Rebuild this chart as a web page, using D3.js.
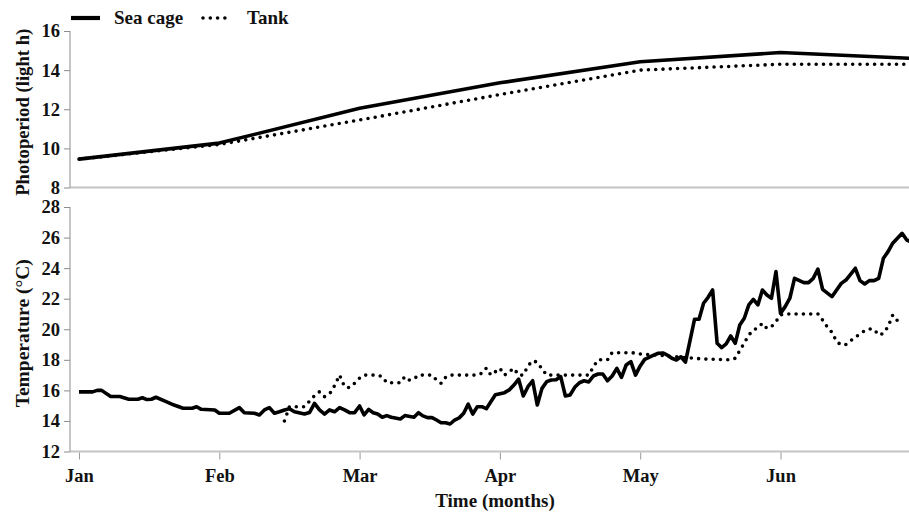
<!DOCTYPE html>
<html>
<head>
<meta charset="utf-8">
<script src="https://cdn.jsdelivr.net/npm/d3@7/dist/d3.min.js"></script>
<style>
  html, body { margin: 0; padding: 0; background: #fff; }
  svg { display: block; }
  text { font-family: "Liberation Serif", "Times New Roman", serif; font-weight: bold; fill: #111; }
</style>
</head>
<body>
<svg id="chart" width="909" height="515"></svg>
<script>
// Month labels and the day of year on which each month starts (Jul 1 closes June)
const months = ["Jan", "Feb", "Mar", "Apr", "May", "Jun"];
const monthStartDay = [1, 32, 60, 91, 121, 152, 182];

// Photoperiod (hours of light), first of each month
const photoDays = [1, 32, 60, 91, 121, 152, 180];
const photoSeaCage = [9.45, 10.27, 12.05, 13.35, 14.43, 14.9, 14.6];
const photoTank = [9.45, 10.2, 11.45, 12.75, 14.0, 14.3, 14.3];

// Water temperature (°C), sea cage
const seaCageDays = [1, 4, 5, 6, 8, 10, 12, 14, 15, 16, 17, 18, 20, 22, 24, 26, 27, 28, 31,
  32, 34, 36, 37, 39, 40, 41, 42, 43, 44, 45, 46, 47, 49, 50, 51, 52, 53, 54, 55, 56, 57, 58, 59,
  60, 61, 62, 63, 64, 65, 66, 67, 69, 70, 72, 73, 74, 75, 76, 77, 78, 79, 80, 81, 82, 83, 84, 85, 86, 87, 88, 89, 90,
  92, 93, 94, 95, 96, 97, 98, 99, 100, 101, 102, 103, 104, 105, 106, 107, 108, 109, 110, 111, 112, 113, 114, 115, 116, 117, 118, 119, 120,
  121, 122, 124, 125, 126, 127, 128, 129, 130, 131, 133, 134, 135, 136, 137, 138, 139, 140, 141, 142, 143, 144, 145, 146, 147, 148, 149, 150, 151,
  152, 153, 154, 155, 157, 158, 159, 160, 161, 163, 164, 165, 166, 168, 169, 170, 171, 172, 173, 174, 175, 176, 178, 179, 180];
const seaCageTemp = [15.9, 15.9, 16.0, 16.0, 15.6, 15.6, 15.42, 15.42, 15.52, 15.4, 15.42, 15.55, 15.3, 15.04, 14.83, 14.83, 14.93, 14.76, 14.72,
  14.5, 14.5, 14.87, 14.54, 14.5, 14.39, 14.72, 14.87, 14.5, 14.6, 14.72, 14.8, 14.6, 14.45, 14.55, 15.15, 14.72, 14.45, 14.72, 14.6, 14.87, 14.72, 14.54, 14.54,
  14.98, 14.39, 14.76, 14.54, 14.45, 14.24, 14.35, 14.24, 14.13, 14.35, 14.24, 14.54, 14.33, 14.22, 14.22, 14.06, 13.88, 13.88, 13.8, 14.06, 14.2, 14.5, 15.1, 14.45, 14.93, 14.93, 14.8, 15.26, 15.72,
  15.85, 16.03, 16.35, 16.74, 15.63, 16.24, 16.63, 15.04, 16.13, 16.57, 16.68, 16.7, 16.9, 15.63, 15.7, 16.2, 16.5, 16.63, 16.55, 16.94, 17.07, 17.07, 16.63, 16.94, 17.44, 16.85, 17.66, 17.88, 17.0,
  17.6, 18.03, 18.3, 18.43, 18.45, 18.3, 18.1, 17.99, 18.2, 17.85, 20.65, 20.65, 21.7, 22.09, 22.57, 19.08, 18.8, 19.04, 19.56, 19.08, 20.28, 20.72, 21.59, 21.96, 21.59, 22.57, 22.24, 22.03, 23.77,
  21.04, 21.48, 22.03, 23.33, 23.05, 23.05, 23.33, 23.94, 22.61, 22.13, 22.57, 23.0, 23.22, 23.99, 23.18, 22.96, 23.18, 23.18, 23.33, 24.64, 25.08, 25.63, 26.28, 25.84, 25.7];

// Water temperature (°C), tank
const tankDays = [45, 46, 49, 51, 52, 53, 54, 55, 56, 57, 58, 59,
  60, 61, 64, 65, 66, 69, 70, 71, 72, 73, 76, 77, 78, 79, 80, 86, 87, 88, 89,
  91, 92, 94, 95, 96, 97, 98, 99, 100, 101, 110, 111, 112, 114, 115, 120,
  121, 125, 130, 133, 135, 141, 142, 143, 144, 145, 146, 147, 148, 149, 150, 151,
  152, 153, 160, 161, 162, 163, 164, 165, 166, 167, 168, 169, 170, 171, 172, 173, 174, 175, 176, 177, 178];
const tankTemp = [14.0, 14.93, 14.93, 15.65, 15.91, 15.59, 15.76, 16.3, 17.0, 16.24, 16.18, 16.46,
  16.8, 17.0, 17.0, 16.9, 16.5, 16.5, 16.9, 16.68, 16.74, 17.0, 17.0, 16.68, 16.46, 16.85, 17.0, 17.0, 17.12, 17.46, 17.0,
  17.44, 17.0, 17.44, 17.0, 17.0, 17.6, 17.94, 17.84, 17.4, 17.0, 17.0, 17.55, 18.0, 18.0, 18.47, 18.45,
  18.38, 18.3, 18.17, 18.1, 18.05, 18.0, 18.1, 18.6, 19.1, 19.62, 19.95, 20.1, 20.39, 20.06, 20.17, 20.5,
  20.93, 21.0, 21.0, 20.6, 20.15, 19.8, 19.19, 18.97, 19.0, 19.25, 19.47, 19.7, 19.9, 20.02, 20.0, 19.62, 19.73, 20.17, 20.93, 20.56, 20.67];

const photoTicks = [8, 10, 12, 14, 16];
const tempTicks = [12, 14, 16, 18, 20, 22, 24, 26, 28];

const series = [
  { name: "Sea cage", dash: null },
  { name: "Tank", dash: "0 7.3" }
];

const svg = d3.select("#chart");
const W = 909;
const left = 70;

// Each month gets the same width on the time axis
const monthX = d3.scaleLinear().domain([0, 1]).range([79, 219.3]);
const x = d3.scaleLinear()
  .domain(monthStartDay)
  .range(monthStartDay.map((d, i) => monthX(i)));

const yPhoto = d3.scaleLinear().domain([8, 16]).range([187.5, 31]);
const yTemp = d3.scaleLinear().domain([12, 28]).range([451.5, 207]);

const axisGrey = "#8c8c8c";
const baseGrey = "#c4c4c4";

function drawYAxis(scale, ticks) {
  const g = svg.append("g").attr("transform", `translate(${left},0)`)
    .call(d3.axisLeft(scale).tickValues(ticks).tickSize(6).tickPadding(4).tickFormat(d3.format("d")));
  g.select(".domain").attr("stroke", axisGrey).attr("stroke-width", 1)
    .attr("d", `M0,${scale.range()[0]}V${scale.range()[1]}`);
  g.selectAll(".tick line").attr("stroke", axisGrey);
  g.selectAll(".tick text")
    .style("font-family", '"Liberation Serif", "Times New Roman", serif')
    .style("font-weight", "bold").style("font-size", "18.5px").attr("fill", "#111");
  return g;
}

function drawBaseline(scale) {
  svg.append("line")
    .attr("x1", left).attr("x2", W)
    .attr("y1", scale.range()[0]).attr("y2", scale.range()[0])
    .attr("stroke", baseGrey).attr("stroke-width", 2);
}

// Top panel: photoperiod
drawBaseline(yPhoto);
drawYAxis(yPhoto, photoTicks);

// Bottom panel: temperature
drawBaseline(yTemp);
drawYAxis(yTemp, tempTicks);

// Month ticks and labels below the temperature panel
const monthAxis = svg.append("g")
  .attr("transform", `translate(0,${yTemp.range()[0] + 1})`)
  .call(d3.axisBottom(x).tickValues(monthStartDay.slice(0, 6)).tickSize(7).tickPadding(9)
    .tickFormat((d, i) => months[i]));
monthAxis.select(".domain").remove();
monthAxis.selectAll(".tick line").attr("stroke", "#9a9a9a");
monthAxis.selectAll(".tick text")
  .style("font-family", '"Liberation Serif", "Times New Roman", serif')
  .style("font-weight", "bold").style("font-size", "18.5px").attr("fill", "#111");

// Lines
const photoLine = d3.line().x(d => x(d[0])).y(d => yPhoto(d[1]));
const tempLine = d3.line().x(d => x(d[0])).y(d => yTemp(d[1]));

function styled(path, s) {
  path.attr("fill", "none").attr("stroke", "#000")
    .attr("stroke-linejoin", "round");
  if (s.dash) {
    path.attr("stroke-width", 3.6).attr("stroke-dasharray", s.dash).attr("stroke-linecap", "round");
  } else {
    path.attr("stroke-width", 3.6).attr("stroke-linecap", "butt");
  }
  return path;
}

styled(svg.append("path").datum(d3.zip(photoDays, photoTank)).attr("d", photoLine), series[1]);
styled(svg.append("path").datum(d3.zip(photoDays, photoSeaCage)).attr("d", photoLine), series[0]);
styled(svg.append("path").datum(d3.zip(tankDays, tankTemp)).attr("d", tempLine), series[1]);
styled(svg.append("path").datum(d3.zip(seaCageDays, seaCageTemp)).attr("d", tempLine), series[0]);

// Axis titles
svg.append("text")
  .attr("transform", `translate(29,${(yPhoto.range()[0] + yPhoto.range()[1]) / 2 + 3}) rotate(-90)`)
  .attr("text-anchor", "middle").style("font-size", "18.7px")
  .text("Photoperiod (light h)");
svg.append("text")
  .attr("transform", `translate(29,${(yTemp.range()[0] + yTemp.range()[1]) / 2 + 4}) rotate(-90)`)
  .attr("text-anchor", "middle").style("font-size", "19.5px")
  .text("Temperature (°C)");
svg.append("text")
  .attr("x", 495).attr("y", 507)
  .attr("text-anchor", "middle").style("font-size", "19px")
  .text("Time (months)");

// Legend
const legend = svg.append("g");
const legendItems = [
  { s: series[0], x0: 71, x1: 100, tx: 114 },
  { s: series[1], x0: 203, x1: 232, tx: 247 }
];
legendItems.forEach(it => {
  const p = legend.append("path").attr("d", `M${it.x0},18H${it.x1}`);
  styled(p, it.s);
  if (!it.s.dash) p.attr("stroke-width", 4.2);
  legend.append("text").attr("x", it.tx).attr("y", 24)
    .style("font-size", "19px").text(it.s.name);
});
</script>
</body>
</html>
